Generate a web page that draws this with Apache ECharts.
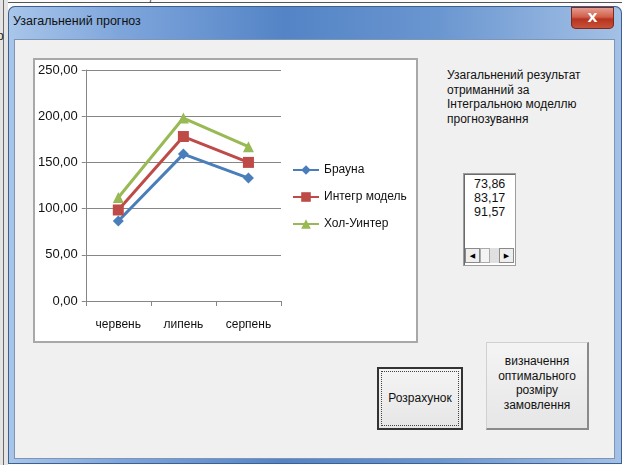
<!DOCTYPE html>
<html>
<head>
<meta charset="utf-8">
<script src="https://cdn.jsdelivr.net/npm/echarts@6/dist/echarts.min.js"></script>
<style>
  html, body { margin: 0; padding: 0; }
  body { width: 622px; height: 465px; overflow: hidden; position: relative; background: #fbfbfb; font-family: "Liberation Sans", "DejaVu Sans", sans-serif; }
  .abs { position: absolute; }
  #frame { left: 8px; top: 6px; width: 614px; height: 458px; border-radius: 7px 7px 0 0;
    background: linear-gradient(90deg, #a9c6ea 0%, #7fa6dc 18%, #5484c6 45%, #6a96d0 70%, #a4c1e6 100%);
    box-shadow: inset 0 0 0 1px #3f5f8e; }
  #title { left: 13px; top: 14px; font-family: "Liberation Sans", sans-serif; font-size: 12.5px; color: #111; }
  #close { left: 571px; top: 7px; width: 43px; height: 22px; border-radius: 0 0 5px 5px;
    background: linear-gradient(180deg, #e8a395 0%, #d0604c 45%, #b8331f 55%, #c8553c 100%);
    box-shadow: inset 0 0 0 1px #7a2a20; color: #fff; font: bold 13px "DejaVu Sans", sans-serif; text-align: center; line-height: 21px; }
  #client { left: 15px; top: 40px; width: 599px; height: 418px; background: #f0f0f0; box-shadow: 0 0 0 1px #7f95b4; }
  #chartbox { left: 33px; top: 58px; width: 381px; height: 281px; background: #fff; border: 2px solid #a8a8a8; }
  #chart { left: 0; top: 0; width: 381px; height: 281px; }
  #info { left: 447px; top: 68px; line-height: 14.6px; color: #111; font-family: "Liberation Sans", sans-serif; font-size: 12px; }
  #list { left: 463px; top: 173px; width: 51px; height: 91px; background: #fff; border: 1px solid #9c9c9c; box-shadow: inset 1px 1px 0 #6b6b6b; }
  #list .vals { position: absolute; left: 10px; top: 3px; font-family: "Liberation Sans", sans-serif; font-size: 12.5px; line-height: 14px; color: #111; }
  .sb { position: absolute; top: 74px; width: 15px; height: 15px; background: #eee; border: 1px solid #8a8a8a; box-sizing: border-box; font-size: 7px; line-height: 13px; text-align: center; color: #000; }
  .btn { background: linear-gradient(180deg, #f4f4f4, #e6e6e6); text-align: center; color: #111; font-family: "Liberation Sans", sans-serif; font-size: 12px; box-sizing: border-box; }
  #b1 { left: 377px; top: 367px; width: 86px; height: 63px; border: 2px solid #333; line-height: 59px; }
  #b1 .focus { position: absolute; left: 2px; top: 2px; right: 2px; bottom: 2px; border: 1px dotted #444; }
  #b2 { left: 486px; top: 342px; width: 103px; height: 88px; border: 1px solid #d0d0d0; border-right: 2px solid #8a8a8a; border-bottom: 2px solid #8a8a8a; padding-top: 11px; line-height: 14.5px; }
</style>
</head>
<body>
<!-- worksheet behind the dialog -->
<div class="abs" style="left:0;top:2px;width:622px;height:1px;background:#555"></div>
<div class="abs" style="left:0;top:0;width:8px;height:465px;background:#e4e4e4"></div>
<div class="abs" style="left:3px;top:0;width:1px;height:465px;background:#6a6a6a"></div>
<div class="abs" style="left:148px;top:-6px;font-size:10px;color:#333">7</div>
<div class="abs" style="left:-3px;top:29px;font-size:12px;color:#222">р</div>

<div id="frame" class="abs"></div>
<div id="title" class="abs">Узагальнений прогноз</div>
<div id="close" class="abs">X</div>
<div id="client" class="abs"></div>

<div id="chartbox" class="abs"><div id="chart" class="abs"></div></div>

<div id="info" class="abs">Узагальнений результат<br>отриманний за<br>Інтегральною моделлю<br>прогнозування</div>

<div id="list" class="abs">
  <div class="vals" id="vals"></div>
  <div class="sb" style="left:1px">&#9664;</div>
  <div class="abs" style="left:16px;top:74px;width:10px;height:15px;background:#f4f4f4;border:1px solid #aaa;box-sizing:border-box"></div>
  <div class="abs" style="left:26px;top:74px;width:9px;height:15px;background:#e0e0e0"></div>
  <div class="sb" style="left:35px">&#9654;</div>
</div>

<div id="b1" class="abs btn"><div class="focus"></div>Розрахунок</div>
<div id="b2" class="abs btn">визначення<br>оптимального<br>розміру<br>замовлення</div>

<script>
// Forecast months
const months = ['червень', 'липень', 'серпень'];
// Forecasts by method
const braun = [86.5, 159, 133];
const integr = [98.5, 178, 150];
const holtWinters = [112, 198, 167];
// Y axis range
const yMin = 0, yMax = 250, yStep = 50;
// Integral model results shown in the list box
const listValues = ['73,86', '83,17', '91,57'];

document.getElementById('vals').innerHTML = listValues.join('<br>');

const chart = echarts.init(document.getElementById('chart'), null, { renderer: 'canvas' });
const font = '"Liberation Sans", "DejaVu Sans", sans-serif';
const fmt = v => v.toFixed(2).replace('.', ',');

chart.setOption({
  animation: false,
  backgroundColor: '#fff',
  grid: { left: 50, top: 10, width: 196, height: 231, containLabel: false },
  legend: {
    orient: 'vertical', left: 252, top: 99,
    itemWidth: 26, itemHeight: 12, itemGap: 15,
    textStyle: { fontFamily: font, fontSize: 12, color: '#111' },
    data: ['Брауна', 'Интегр модель', 'Хол-Уинтер']
  },
  xAxis: {
    type: 'category', data: months, boundaryGap: true,
    axisLine: { lineStyle: { color: '#868686', width: 1 } },
    axisTick: { show: true, length: 5, interval: 0, lineStyle: { color: '#868686' } },
    axisLabel: { margin: 18, fontFamily: font, fontSize: 12, color: '#111' }
  },
  yAxis: {
    type: 'value', min: yMin, max: yMax, interval: yStep,
    axisLine: { show: true, lineStyle: { color: '#868686', width: 1 } },
    axisTick: { show: true, length: 4, lineStyle: { color: '#868686' } },
    splitLine: { lineStyle: { color: '#868686', width: 1 } },
    axisLabel: { margin: 8, fontFamily: font, fontSize: 13, color: '#111', formatter: fmt }
  },
  series: [
    { name: 'Брауна', type: 'line', data: braun, symbol: 'diamond', symbolSize: 11,
      lineStyle: { width: 3, color: '#4a7ebb' }, itemStyle: { color: '#4a7ebb' } },
    { name: 'Интегр модель', type: 'line', data: integr, symbol: 'rect', symbolSize: 11,
      lineStyle: { width: 3, color: '#be4b48' }, itemStyle: { color: '#be4b48' } },
    { name: 'Хол-Уинтер', type: 'line', data: holtWinters, symbol: 'triangle', symbolSize: 11,
      lineStyle: { width: 3, color: '#98b954' }, itemStyle: { color: '#98b954' } }
  ]
});
</script>
</body>
</html>
